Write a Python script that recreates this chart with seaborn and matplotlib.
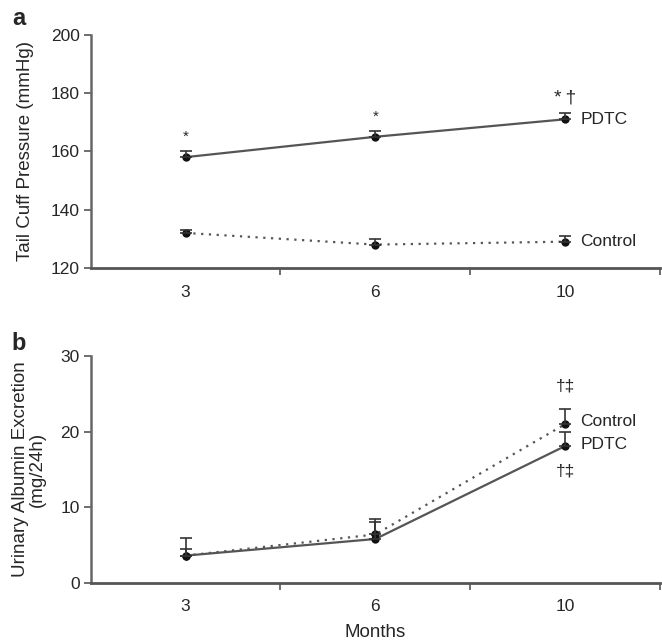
import pandas as pd
import seaborn as sns
import matplotlib.pyplot as plt

# values
months = ['3', '6', '10']

pressure_pdtc = [158, 165, 171]
pressure_pdtc_err = [2.0, 2.0, 2.0]
pressure_ctrl = [132, 128, 129]
pressure_ctrl_err = [1.0, 2.0, 2.0]

albumin_pdtc = [3.6, 5.8, 18.1]
albumin_pdtc_err = [2.3, 2.2, 1.9]
albumin_ctrl = [3.6, 6.4, 21.0]
albumin_ctrl_err = [0.9, 2.0, 2.0]

sns.set_style('white')
plt.rcParams['font.family'] = ['Liberation Sans', 'DejaVu Sans']

fig = plt.figure(figsize=(6.62, 6.44), dpi=100)
ax1 = fig.add_axes([0.137, 0.584, 0.86, 0.362])
ax2 = fig.add_axes([0.137, 0.095, 0.86, 0.352])

styles = {'PDTC': '', 'Control': (1, 2.5)}
palette = {'PDTC': '#555555', 'Control': '#555555'}
FS = 12.5
LFS = 13.5


def panel(ax, pdtc, pdtc_err, ctrl, ctrl_err):
    df = pd.DataFrame({
        'month': months * 2,
        'value': pdtc + ctrl,
        'group': ['PDTC'] * 3 + ['Control'] * 3,
    })
    sns.lineplot(data=df, x='month', y='value', hue='group', style='group',
                 dashes=styles, palette=palette, marker='o', markersize=6,
                 markeredgewidth=0, markerfacecolor='#111111', linewidth=1.6,
                 legend=False, ax=ax)
    pos = list(range(len(months)))
    for vals, err in [(pdtc, pdtc_err), (ctrl, ctrl_err)]:
        ax.errorbar(pos, vals, yerr=[[0] * len(err), err], fmt='none',
                    ecolor='#333333', elinewidth=1.2, capsize=4, capthick=1.2)
    ax.set_xlim(-0.5, 2.5)
    ax.set_xticks(pos)
    ax.set_xticklabels(months)
    ax.set_xticks([0.5, 1.5, 2.5], minor=True)
    ax.tick_params(axis='x', which='major', length=0, pad=12, labelsize=FS)
    ax.tick_params(axis='x', which='minor', length=5, width=1.2, color='#555555',
                   direction='out', bottom=True)
    ax.tick_params(axis='y', length=5, width=1.2, direction='out', left=True,
                   labelsize=FS, color='#555555', pad=3)
    sns.despine(ax=ax)
    ax.spines['bottom'].set_color('#555555')
    ax.spines['bottom'].set_linewidth(2)
    ax.spines['left'].set_color('#666666')
    ax.spines['left'].set_linewidth(1.8)


panel(ax1, pressure_pdtc, pressure_pdtc_err, pressure_ctrl, pressure_ctrl_err)
ax1.set_ylim(120, 200)
ax1.set_yticks([120, 140, 160, 180, 200])
ax1.set_xlabel('')
ax1.set_ylabel('Tail Cuff Pressure (mmHg)', fontsize=LFS, labelpad=12)
for i, mark in enumerate(['*', '*', '*\u2009\u2020']):
    ax1.text(i, pressure_pdtc[i] + pressure_pdtc_err[i] + 2.5, mark,
             ha='center', va='bottom', fontsize=11 if i < 2 else 14)
ax1.text(2.08, pressure_pdtc[2], 'PDTC', va='center', fontsize=FS)
ax1.text(2.08, pressure_ctrl[2], 'Control', va='center', fontsize=FS)
fig.text(0.018, 0.972, 'a', fontsize=17, fontweight='bold', va='center')

panel(ax2, albumin_pdtc, albumin_pdtc_err, albumin_ctrl, albumin_ctrl_err)
ax2.set_ylim(0, 30)
ax2.set_yticks([0, 10, 20, 30])
ax2.set_xlabel('Months', fontsize=LFS, labelpad=7)
ax2.set_ylabel('Urinary Albumin Excretion\n(mg/24h)', fontsize=LFS,
               labelpad=10, linespacing=1.0)
ax2.text(2.0, albumin_ctrl[2] + albumin_ctrl_err[2] + 2.0, '\u2020\u2021',
         ha='center', va='bottom', fontsize=FS)
ax2.text(2.0, albumin_pdtc[2] - 2.3, '\u2020\u2021', ha='center', va='top',
         fontsize=FS)
ax2.text(2.08, albumin_ctrl[2] + 0.3, 'Control', va='center', fontsize=FS)
ax2.text(2.08, albumin_pdtc[2] + 0.2, 'PDTC', va='center', fontsize=FS)
fig.text(0.018, 0.467, 'b', fontsize=17, fontweight='bold', va='center')

fig.savefig('out.png', dpi=100)
